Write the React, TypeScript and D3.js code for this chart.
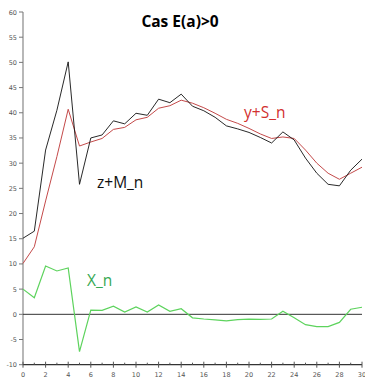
import React from "react";
import * as d3 from "d3";

// x = 0..30
const steps = d3.range(0, 31);

const zmSeries = [
  15.1, 16.5, 32.6, 40.5, 50.1, 25.8, 35, 35.6, 38.4, 37.8, 39.9,
  39.5, 42.7, 42, 43.7, 41.3, 40.4, 39.1, 37.4, 36.8, 36.1,
  35.1, 34, 36.2, 34.6, 31, 28, 25.8, 25.5, 28.6, 30.8,
];

const ysSeries = [
  10.1, 13.4, 22.5, 31.3, 40.7, 33.4, 34.2, 34.9, 36.7, 37.1, 38.6,
  39.1, 40.9, 41.4, 42.5, 41.9, 41, 39.9, 38.7, 37.9, 36.9,
  35.8, 34.9, 35.2, 34.9, 32.6, 30, 28, 26.8, 28, 29.2,
];

const xSeries = [
  5, 3.3, 9.6, 8.6, 9.2, -7.4, 0.85, 0.8, 1.6, 0.45, 1.45,
  0.45, 1.85, 0.6, 1.1, -0.7, -0.93, -1.1, -1.3, -1.07, -0.97,
  -1, -0.93, 0.6, -0.67, -2.06, -2.45, -2.45, -1.6, 1, 1.4,
];

const yTicks = [-10, -5, 0, 5, 10, 15, 20, 25, 30, 35, 40, 45, 50, 55, 60];
const xTicks = d3.range(0, 31, 2);
const xMinor = d3.range(1, 31, 2);

const W = 365;
const H = 377;

export default function App() {
  const x = d3.scaleLinear().domain([0, 30]).range([23, 362]);
  const y = d3.scaleLinear().domain([-10, 60]).range([364.7, 12]);

  const line = (vals: number[]) =>
    d3
      .line<number>()
      .x((_, i) => x(steps[i]))
      .y((d) => y(d))(vals) || "";

  return (
    <div style={{ position: "absolute", left: 0, top: 0, background: "#fff" }}>
      <svg width={W} height={H} style={{ display: "block" }}>
        <rect width={W} height={H} fill="#fff" />

        {/* y axis */}
        <line x1={x(0)} x2={x(0)} y1={y(60)} y2={y(-10)} stroke="#888" strokeWidth={1.2} />
        {yTicks.map((t) => (
          <g key={t}>
            <line x1={x(0) - 4} x2={x(0)} y1={y(t)} y2={y(t)} stroke="#777" />
            <text
              x={x(0) - 6}
              y={y(t) + 2.5}
              textAnchor="end"
              fontSize={6.5}
              fontFamily="DejaVu Sans"
              fill="#555"
            >
              {t}
            </text>
          </g>
        ))}

        {/* x axis */}
        <line x1={x(0)} x2={x(30)} y1={y(-10)} y2={y(-10)} stroke="#333" strokeWidth={1.2} />
        {xTicks.map((t) => (
          <g key={t}>
            <line x1={x(t)} x2={x(t)} y1={y(-10) - 3} y2={y(-10) + 3} stroke="#555" />
            <text
              x={x(t)}
              y={H - 0.5}
              textAnchor="middle"
              fontSize={6.5}
              fontFamily="DejaVu Sans"
              fill="#555"
            >
              {t}
            </text>
          </g>
        ))}
        {xMinor.map((t) => (
          <line key={t} x1={x(t)} x2={x(t)} y1={y(-10) - 2} y2={y(-10)} stroke="#555" />
        ))}

        {/* zero line */}
        <line x1={x(0)} x2={x(30)} y1={y(0)} y2={y(0)} stroke="#333" strokeWidth={1} />

        {/* series */}
        <path d={line(ysSeries)} fill="none" stroke="#c44a4a" strokeWidth={1} />
        <path d={line(zmSeries)} fill="none" stroke="#111" strokeWidth={0.9} />
        <path d={line(xSeries)} fill="none" stroke="#5dd35d" strokeWidth={1.2} />

        {/* labels */}
        <text
          x={180}
          y={27}
          textAnchor="middle"
          fontSize={15.5}
          fontWeight="bold"
          fontFamily="Open Sans"
          fill="#000"
        >
          Cas E(a)&gt;0
        </text>
        <text x={97} y={188} fontSize={15.5} fontFamily="Open Sans" fill="#111">
          z+M_n
        </text>
        <text x={244} y={118} fontSize={15.5} fontFamily="Open Sans" fill="#d2302e">
          y+S_n
        </text>
        <text x={87} y={286} fontSize={15.5} fontFamily="Open Sans" fill="#36a852">
          X_n
        </text>
      </svg>
    </div>
  );
}
